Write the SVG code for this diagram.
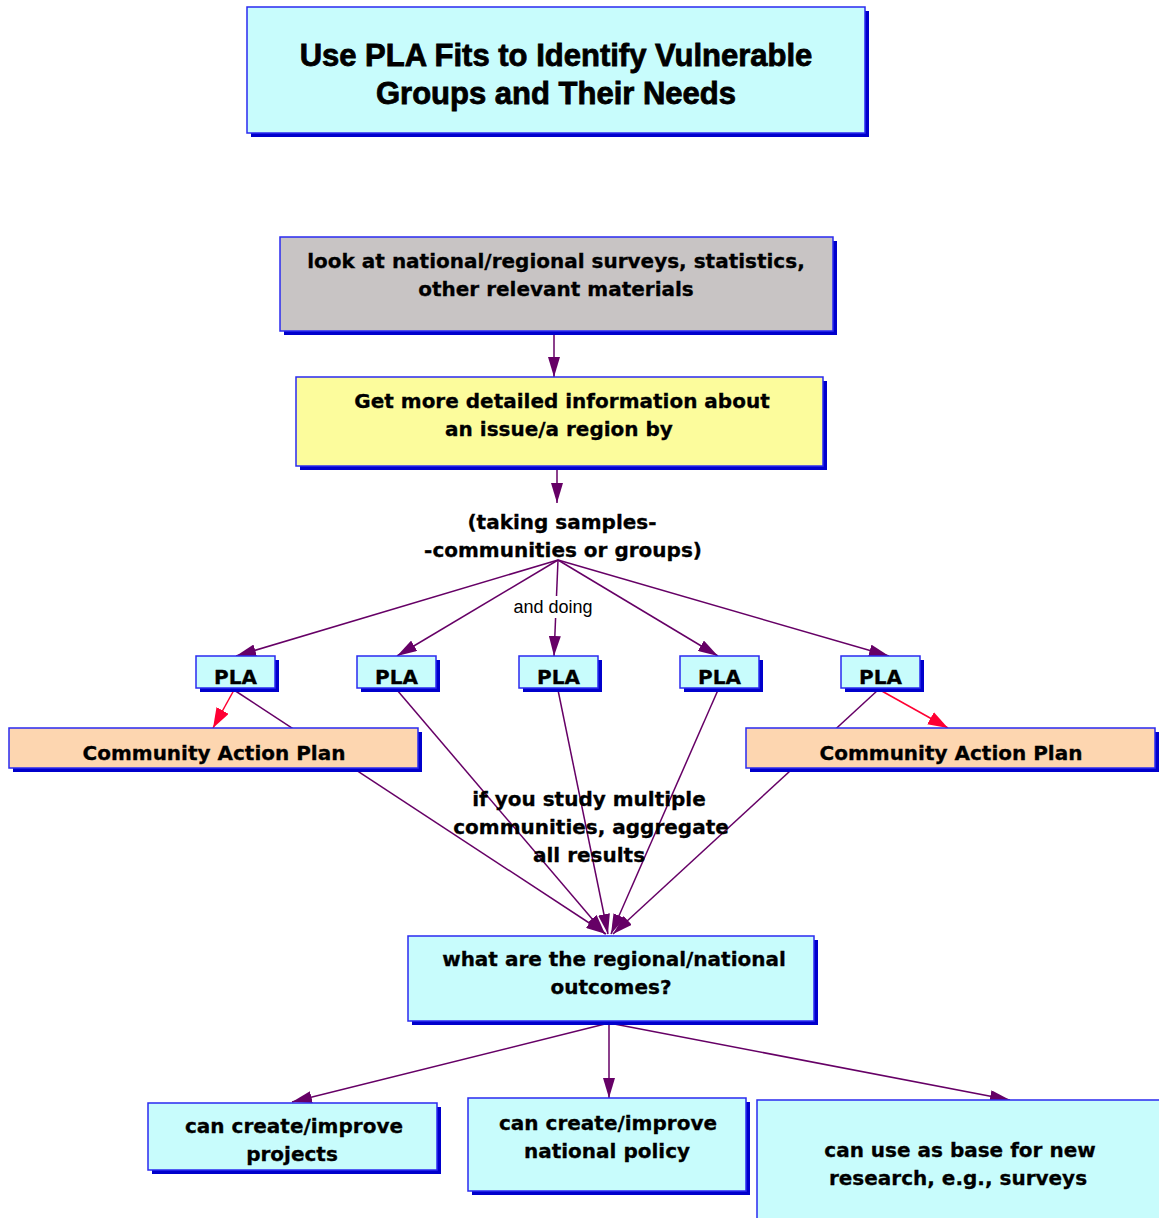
<svg xmlns="http://www.w3.org/2000/svg" width="1159" height="1218" viewBox="0 0 1159 1218">
<style>
.bx{stroke:#2a2af0;stroke-width:1.5}
.sh{fill:#0000cc}
.cy{fill:#c8fcfc}
.gr{fill:#c8c4c4}
.ye{fill:#fcfc9c}
.pe{fill:#fdd6b0}
.t{font-family:"DejaVu Sans","Liberation Sans",Arial,sans-serif;font-weight:bold;font-size:20px;text-anchor:middle;fill:#000;stroke:#000;stroke-width:0.3}
.tt{font-family:"Liberation Sans",Arial,sans-serif;font-weight:bold;font-size:31px;text-anchor:middle;fill:#000;stroke:#000;stroke-width:0.8}
.lb{font-family:"Liberation Sans",Arial,sans-serif;font-size:18px;text-anchor:middle;fill:#000}
.c{fill:none;stroke:#660066;stroke-width:1.5}
.r{fill:none;stroke:#ff0033;stroke-width:1.5}
</style>
<defs>
<marker id="ap" markerUnits="userSpaceOnUse" markerWidth="20" markerHeight="12" refX="20" refY="6" orient="auto"><path d="M0,0 L20,6 L0,12 z" fill="#660066"/></marker>
<marker id="ar" markerUnits="userSpaceOnUse" markerWidth="20" markerHeight="14" refX="20" refY="7" orient="auto"><path d="M0,0 L20,7 L0,14 z" fill="#ff0033"/></marker>
</defs>
<rect width="1159" height="1218" fill="#fff"/>
<g id="connectors">
<path class="c" d="M554,333 L554,377" marker-end="url(#ap)"/>
<path class="c" d="M557,468 L557,503" marker-end="url(#ap)"/>
<path class="c" d="M558,560 L236,656" marker-end="url(#ap)"/>
<path class="c" d="M558,560 L397,656" marker-end="url(#ap)"/>
<path class="c" d="M558,560 L554,656" marker-end="url(#ap)"/>
<path class="c" d="M558,560 L718,656" marker-end="url(#ap)"/>
<path class="c" d="M558,560 L889,656" marker-end="url(#ap)"/>
<path class="c" d="M234,690 L606,934" marker-end="url(#ap)"/>
<path class="c" d="M397,690 L605,934" marker-end="url(#ap)"/>
<path class="c" d="M558,690 L608,934" marker-end="url(#ap)"/>
<path class="c" d="M718,690 L611,934" marker-end="url(#ap)"/>
<path class="c" d="M878,690 L613,934" marker-end="url(#ap)"/>
<path class="c" d="M609,1023 L292,1102" marker-end="url(#ap)"/>
<path class="c" d="M609,1023 L609,1098" marker-end="url(#ap)"/>
<path class="c" d="M609,1023 L1010,1100" marker-end="url(#ap)"/>
<path class="r" d="M234,690 L213,728" marker-end="url(#ar)"/>
<path class="r" d="M880,690 L948,728" marker-end="url(#ar)"/>
<rect x="511" y="596" width="84" height="22" fill="#fff"/>
<text class="lb" x="553" y="613">and doing</text>
</g>
<g id="title">
<rect class="sh" x="251" y="11" width="618" height="126"/>
<rect class="bx cy" x="247" y="7" width="618" height="126"/>
<text class="tt" x="556" y="66">Use PLA Fits to Identify Vulnerable</text>
<text class="tt" x="556" y="104">Groups and Their Needs</text>
</g>
<g id="surveys">
<rect class="sh" x="284" y="241" width="553" height="94"/>
<rect class="bx gr" x="280" y="237" width="553" height="94"/>
<text class="t" x="556" y="268">look at national/regional surveys, statistics,</text>
<text class="t" x="556" y="296">other relevant materials</text>
</g>
<g id="detailed">
<rect class="sh" x="300" y="381" width="527" height="89"/>
<rect class="bx ye" x="296" y="377" width="527" height="89"/>
<text class="t" x="562" y="408">Get more detailed information about</text>
<text class="t" x="559" y="436">an issue/a region by</text>
</g>
<g id="samples">
<text class="t" x="562" y="529">(taking samples-</text>
<text class="t" x="563" y="557">-communities or groups)</text>
</g>
<g id="pla1">
<rect class="sh" x="200" y="660" width="79" height="32"/>
<rect class="bx cy" x="196" y="656" width="79" height="32"/>
<text class="t" x="235.5" y="684">PLA</text>
</g>
<g id="pla2">
<rect class="sh" x="361" y="660" width="79" height="32"/>
<rect class="bx cy" x="357" y="656" width="79" height="32"/>
<text class="t" x="396.5" y="684">PLA</text>
</g>
<g id="pla3">
<rect class="sh" x="523" y="660" width="79" height="32"/>
<rect class="bx cy" x="519" y="656" width="79" height="32"/>
<text class="t" x="558.5" y="684">PLA</text>
</g>
<g id="pla4">
<rect class="sh" x="684" y="660" width="79" height="32"/>
<rect class="bx cy" x="680" y="656" width="79" height="32"/>
<text class="t" x="719.5" y="684">PLA</text>
</g>
<g id="pla5">
<rect class="sh" x="845" y="660" width="79" height="32"/>
<rect class="bx cy" x="841" y="656" width="79" height="32"/>
<text class="t" x="880.5" y="684">PLA</text>
</g>
<g id="cap-left">
<rect class="sh" x="13" y="732" width="409" height="40"/>
<rect class="bx pe" x="9" y="728" width="409" height="40"/>
<text class="t" x="214" y="760">Community Action Plan</text>
</g>
<g id="cap-right">
<rect class="sh" x="750" y="732" width="409" height="40"/>
<rect class="bx pe" x="746" y="728" width="409" height="40"/>
<text class="t" x="951" y="760">Community Action Plan</text>
</g>
<g id="aggregate">
<text class="t" x="589" y="806">if you study multiple</text>
<text class="t" x="591" y="834">communities, aggregate</text>
<text class="t" x="589" y="862">all results</text>
</g>
<g id="outcomes">
<rect class="sh" x="412" y="940" width="406" height="85"/>
<rect class="bx cy" x="408" y="936" width="406" height="85"/>
<text class="t" x="614" y="966">what are the regional/national</text>
<text class="t" x="611" y="994">outcomes?</text>
</g>
<g id="projects">
<rect class="sh" x="152" y="1107" width="289" height="67"/>
<rect class="bx cy" x="148" y="1103" width="289" height="67"/>
<text class="t" x="294" y="1133">can create/improve</text>
<text class="t" x="292" y="1161">projects</text>
</g>
<g id="policy">
<rect class="sh" x="472" y="1102" width="278" height="93"/>
<rect class="bx cy" x="468" y="1098" width="278" height="93"/>
<text class="t" x="608" y="1130">can create/improve</text>
<text class="t" x="607" y="1158">national policy</text>
</g>
<g id="research">
<rect class="bx cy" x="757" y="1100" width="420" height="130"/>
<text class="t" x="960" y="1157">can use as base for new</text>
<text class="t" x="958" y="1185">research, e.g., surveys</text>
</g>
</svg>
